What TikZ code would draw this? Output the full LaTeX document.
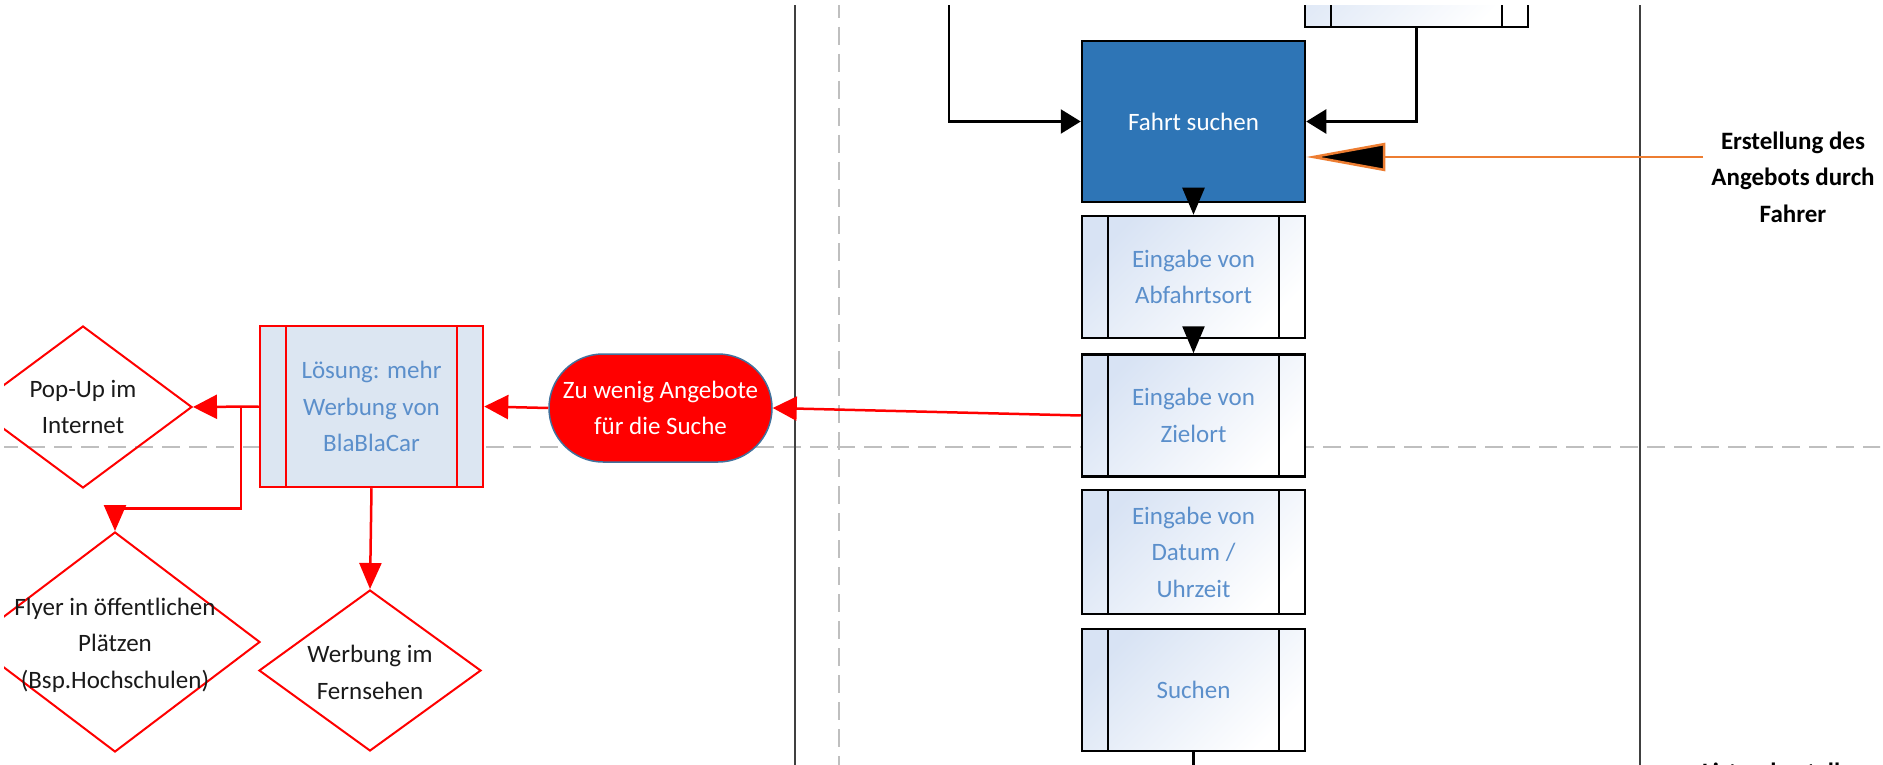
\documentclass[tikz,border=0pt]{standalone}
\usepackage{fontspec}
\setmainfont{Carlito}
\usetikzlibrary{arrows.meta,shapes.geometric,calc}
\definecolor{boxblue}{HTML}{2E75B6}
\definecolor{txtblue}{HTML}{5B8FCB}
\definecolor{lightfill}{HTML}{DCE6F2}
\definecolor{gradblue}{HTML}{D8E3F4}
\definecolor{dashgray}{HTML}{BFBFBF}
\definecolor{orangeline}{HTML}{ED7D31}
\definecolor{pillborder}{HTML}{41719C}
\definecolor{laneline}{HTML}{404040}
\definecolor{dtxt}{HTML}{1A1A1A}
\tikzset{
  basefont/.style={font=\fontsize{25}{36.5}\selectfont},
  subl/.style={path picture={
    \draw[line width=2.5pt, draw=#1]
      ([xshift=26pt]path picture bounding box.north west) -- ([xshift=26pt]path picture bounding box.south west)
      ([xshift=-26pt]path picture bounding box.north east) -- ([xshift=-26pt]path picture bounding box.south east);}},
  subp/.style={rectangle, draw=black, line width=2.5pt, minimum width=223pt, minimum height=122pt,
    inner sep=0pt, top color=gradblue, bottom color=white, shading angle=45, text=txtblue,
    align=center, basefont, subl=black},
  redsub/.style={rectangle, draw=red, line width=2.5pt, minimum width=223pt, minimum height=161pt,
    inner sep=0pt, fill=lightfill, text=txtblue, align=center, basefont, subl=red},
  procbox/.style={rectangle, draw=black, line width=2.5pt, fill=boxblue, text=white,
    minimum width=223pt, minimum height=161pt, inner sep=0pt, align=center, basefont},
  pillbox/.style={rectangle, rounded corners=54pt, fill=red, draw=pillborder, line width=1.5pt,
    minimum width=223pt, minimum height=108pt, inner sep=0pt, text=white, align=center, basefont},
  dia/.style={diamond, draw=red, line width=2pt, inner sep=0pt},
  dtext/.style={text=dtxt, align=center, basefont, inner sep=0pt},
  lane/.style={line width=2.5pt, draw=laneline},
  sepline/.style={line width=2.5pt, draw=dashgray, dash pattern=on 18pt off 9pt},
  blk/.style={line width=2.5pt, draw=black},
  blkside/.style={-{Triangle[length=20pt,width=24pt]}},
  blkdown/.style={-{Triangle[length=27pt,width=22pt]}},
  redl/.style={line width=2.5pt, draw=red},
  redside/.style={-{Triangle[length=24pt,width=24pt]}},
  reddown/.style={-{Triangle[length=26pt,width=22pt]}},
}
\begin{document}
\begin{tikzpicture}[x=1pt,y=-1pt]
\useasboundingbox (0,0) rectangle (1883,765);
\fill[white] (0,0) rectangle (1883,765);
\begin{scope}
\clip (4,6) rectangle (1880,765);
% lane separators
\draw[sepline] (0,447) -- (1883,447);
\draw[sepline] (839,0) -- (839,770);
\draw[lane] (795,0) -- (795,770);
\draw[lane] (1640,0) -- (1640,770);

% nodes
\node[procbox] (fahrt) at (1193.5,121.5) {Fahrt suchen};
\node[subp] (topb) at (1416.5,-34) {};
\node[subp] (abf) at (1193.5,277) {Eingabe von\\Abfahrtsort};
\node[subp] (ziel) at (1193.5,415.5) {Eingabe von\\Zielort};
\node[subp, minimum height=124pt] (datum) at (1193.5,552) {Eingabe von\\Datum /\\Uhrzeit};
\node[subp] (such) at (1193.5,690) {Suchen};

\node[redsub] (loes) at (371.5,406.5) {Lösung: mehr\\Werbung von\\BlaBlaCar};
\node[pillbox] (pill) at (660.5,408) {Zu wenig Angebote\\für die Suche};

\node[dia, minimum width=218pt, minimum height=162pt] (popup) at (83,407) {};
\node[dtext] (popupt) at (popup.center) {Pop-Up im\\Internet};
\node[dia, minimum width=290pt, minimum height=220pt] (flyer) at (115,642) {};
\node[dtext] (flyert) at ([yshift=-3pt]flyer.center) {Flyer in öffentlichen\\Plätzen\\(Bsp.Hochschulen)};
\node[dia, minimum width=222pt, minimum height=161pt] (werb) at (370,670.5) {};
\node[dtext] (werbt) at ([yshift=-2pt]werb.center) {Werbung im\\Fernsehen};

\node[basefont, font=\fontsize{25}{36.5}\selectfont\bfseries, align=center, text=black] (erst) at (1793,177) {Erstellung des\\Angebots durch\\Fahrer};
\node[basefont, font=\fontsize{25}{36.5}\selectfont\bfseries, anchor=base west, inner sep=0pt, text=black] (liste) at (1702,780) {Listendarstellung};

% black connectors
\coordinate (ltop) at (949,0);
\draw[blk, blkside] (ltop) |- (fahrt.west);
\draw[blk, blkside] (topb.south) |- (fahrt.east);
\draw[blk, blkdown] ($(fahrt.south)+(0,-14)$) -- (abf.north);
\draw[blk, blkdown] ($(abf.south)+(0,-12)$) -- (ziel.north);
\coordinate (sbot) at (1193.5,780);
\draw[blk] (such.south) -- (sbot);

% orange connector
\coordinate (oend) at (1703,157);
\draw[line width=2.5pt, draw=orangeline, -{Triangle[length=79pt,width=28pt,fill=black]}] (oend) -- (fahrt.east |- oend);

% red connectors
\draw[redl, redside] (ziel.west) -- (pill.east);
\draw[redl, redside] (pill.west) -- (loes.east);
\draw[redl, redside] (loes.west) -- (popup.east);
\coordinate (br) at ($(loes.west)+(-18,0)$);
\draw[redl, reddown] (br) -- ++(0,102) -| (flyer.north);
\draw[redl, reddown] (loes.south) -- (werb.north);
\end{scope}
\end{tikzpicture}
\end{document}
